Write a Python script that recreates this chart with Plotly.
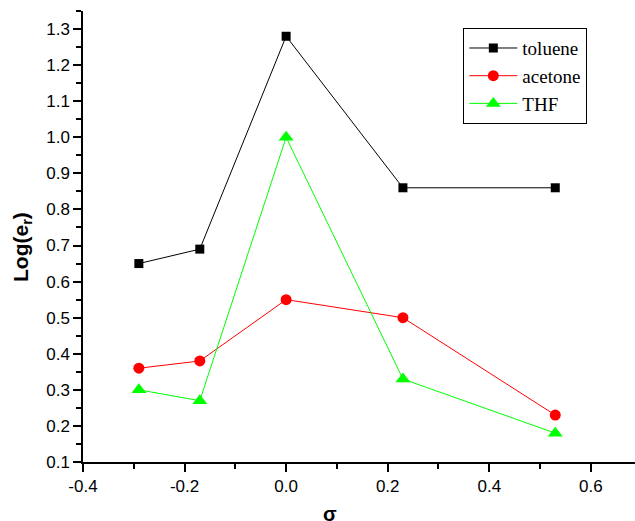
import plotly.graph_objects as go

sigma = [-0.29, -0.17, 0.0, 0.23, 0.53]
toluene = [0.65, 0.69, 1.28, 0.86, 0.86]
acetone = [0.36, 0.38, 0.55, 0.50, 0.23]
thf = [0.30, 0.27, 1.00, 0.33, 0.18]

x_ticks = [-0.4, -0.2, 0.0, 0.2, 0.4, 0.6]
y_ticks = [0.1, 0.2, 0.3, 0.4, 0.5, 0.6, 0.7, 0.8, 0.9, 1.0, 1.1, 1.2, 1.3]

fig = go.Figure()
fig.add_trace(go.Scatter(x=sigma, y=toluene, name="toluene", mode="lines+markers",
                         line=dict(color="#000000", width=1),
                         marker=dict(symbol="square", size=9, color="#000000")))
fig.add_trace(go.Scatter(x=sigma, y=acetone, name="acetone", mode="lines+markers",
                         line=dict(color="#ff0000", width=1),
                         marker=dict(symbol="circle", size=11, color="#ff0000")))
fig.add_trace(go.Scatter(x=sigma, y=thf, name="THF", mode="lines+markers",
                         line=dict(color="#00ff00", width=1),
                         marker=dict(symbol="triangle-up", size=13, color="#00ff00")))

tickfont = dict(family="Arial, Liberation Sans, sans-serif", size=17, color="#000000")

fig.update_layout(
    width=635, height=521,
    margin=dict(l=83, r=0, t=11, b=59),
    plot_bgcolor="white", paper_bgcolor="white",
    showlegend=True,
    legend=dict(x=0.689, y=0.962, xanchor="left", yanchor="top",
                bordercolor="#000000", borderwidth=1, bgcolor="white",
                font=dict(family="Times New Roman, Liberation Serif, serif", size=19, color="#000000"),
                tracegroupgap=0, itemwidth=48),
    xaxis=dict(range=[-0.4, 0.687], tickvals=x_ticks, ticktext=[f"{v:.1f}" for v in x_ticks],
               showgrid=False, zeroline=False, showline=True, linecolor="#000000", linewidth=1.5,
               ticks="outside", ticklen=8, tickwidth=1.5, tickcolor="#000000", tickfont=tickfont,
               minor=dict(dtick=0.1, tick0=0, ticks="outside", ticklen=5, tickwidth=1.5, tickcolor="#000000", showgrid=False)),
    yaxis=dict(range=[0.1, 1.35], tickvals=y_ticks, ticktext=[f"{v:.1f}" for v in y_ticks],
               showgrid=False, zeroline=False, showline=True, linecolor="#000000", linewidth=1.5,
               ticks="outside", ticklen=8, tickwidth=1.5, tickcolor="#000000", tickfont=tickfont,
               minor=dict(dtick=0.05, tick0=0.1, ticks="outside", ticklen=5, tickwidth=1.5, tickcolor="#000000", showgrid=False)),
)

fig.add_annotation(text="<b>σ</b>", xref="paper", yref="paper",
                   x=(330 - 83) / 552, y=-(514 - 462) / 451, xanchor="center", yanchor="middle",
                   showarrow=False, font=dict(family="Arial, Liberation Sans, sans-serif", size=20, color="#000000"))
fig.add_annotation(text="<b>Log(e<sub>r</sub>)</b>", xref="paper", yref="paper",
                   x=-(83 - 22) / 552, y=(462 - 247) / 451, xanchor="center", yanchor="middle",
                   textangle=-90, showarrow=False,
                   font=dict(family="Arial, Liberation Sans, sans-serif", size=21, color="#000000"))

fig.write_html("out.html", config={"displayModeBar": False},
               post_script="document.body.style.margin='0';document.body.style.padding='0';")
